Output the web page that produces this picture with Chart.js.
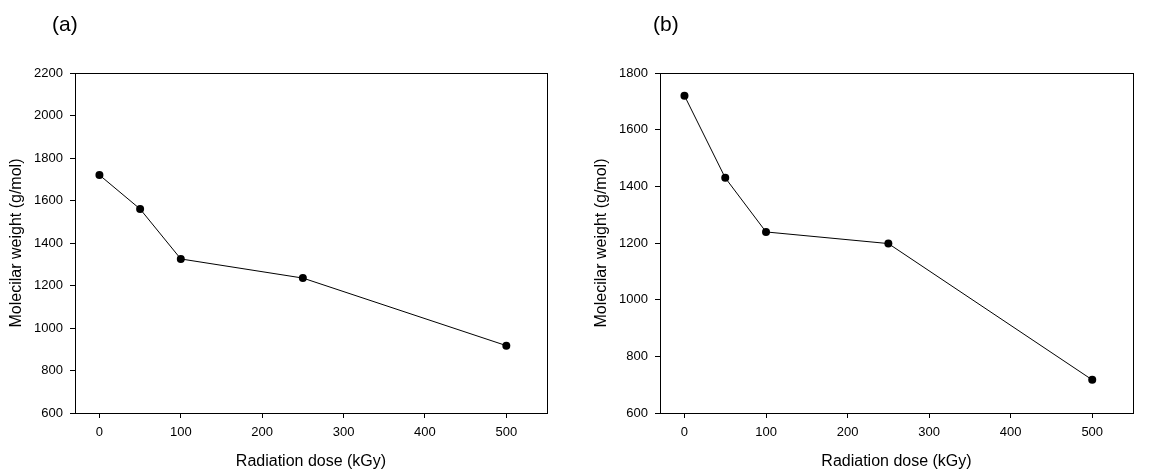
<!DOCTYPE html>
<html lang="en">
<head>
    <meta charset="UTF-8">
    <title>Molecular weight vs radiation dose</title>
    <script src="https://cdn.jsdelivr.net/npm/chart.js"></script>
    <style>
        html, body {
            margin: 0;
            padding: 0;
            background: #ffffff;
            width: 1160px;
            height: 473px;
            overflow: hidden;
            font-family: "Liberation Sans", Arial, sans-serif;
        }
        .panel {
            position: absolute;
            top: 0;
            height: 473px;
        }
        .tag {
            position: absolute;
            top: 13px;
            font-size: 21px;
            line-height: 1;
            color: #000;
        }
    </style>
</head>
<body>
<div class="panel" style="left:0; width:580px;"><canvas id="chartA"></canvas></div>
<div class="panel" style="left:585px; width:575px;"><canvas id="chartB"></canvas></div>
<div class="tag" style="left:52px;">(a)</div>
<div class="tag" style="left:653px;">(b)</div>

<script>
    // data
    const doses = [0, 50, 100, 250, 500];
    const weightA = [1720, 1560, 1325, 1235, 917];
    const weightB = [1720, 1430, 1239, 1198, 717];

    const xTicks = [0, 100, 200, 300, 400, 500];
    const yTicksA = [600, 800, 1000, 1200, 1400, 1600, 1800, 2000, 2200];
    const yTicksB = [600, 800, 1000, 1200, 1400, 1600, 1800];

    const xTitle = 'Radiation dose (kGy)';
    const yTitle = 'Molecilar weight (g/mol)';

    // draws the closed frame around the plot area
    const frameBox = {
        id: 'frameBox',
        afterDraw(chart) {
            const a = chart.chartArea;
            const c = chart.ctx;
            c.save();
            c.strokeStyle = '#000';
            c.lineWidth = 1;
            const l = Math.round(a.left) + 0.5;
            const t = Math.round(a.top) + 0.5;
            const r = Math.round(a.right) + 0.5;
            const b = Math.round(a.bottom) + 0.5;
            c.strokeRect(l, t, r - l, b - t);
            c.restore();
        }
    };

    function makeChart(id, values, yTicks, padRight) {
        const ctx = document.getElementById(id).getContext('2d');
        return new Chart(ctx, {
            type: 'line',
            data: {
                datasets: [{
                    data: doses.map((d, i) => ({ x: d, y: values[i] })),
                    borderColor: '#000',
                    borderWidth: 1,
                    backgroundColor: '#000',
                    pointRadius: 4,
                    pointBackgroundColor: '#000',
                    pointBorderWidth: 0,
                    tension: 0
                }]
            },
            options: {
                responsive: true,
                maintainAspectRatio: false,
                animation: false,
                events: [],
                layout: { padding: { left: 0, top: 73, right: padRight, bottom: 0 } },
                plugins: {
                    legend: { display: false },
                    tooltip: { enabled: false },
                    title: { display: false }
                },
                scales: {
                    x: {
                        type: 'linear',
                        min: -30,
                        max: 550,
                        afterBuildTicks: s => { s.ticks = xTicks.map(v => ({ value: v })); },
                        afterFit: s => { s.height = 60; },
                        grid: { drawOnChartArea: false, drawTicks: true, tickLength: 5, color: '#000', lineWidth: 1 },
                        border: { display: true, color: '#000', width: 1 },
                        ticks: {
                            color: '#000', padding: 7, maxRotation: 0,
                            font: { family: 'Liberation Sans', size: 13 },
                            callback: v => String(v)
                        },
                        title: {
                            display: true,
                            text: xTitle,
                            color: '#000',
                            padding: { top: 0, bottom: 2 },
                            font: { family: 'Liberation Sans', size: 16 }
                        }
                    },
                    y: {
                        type: 'linear',
                        min: yTicks[0],
                        max: yTicks[yTicks.length - 1],
                        afterBuildTicks: s => { s.ticks = yTicks.map(v => ({ value: v })); },
                        afterFit: s => { s.width = 75; },
                        grid: { drawOnChartArea: false, drawTicks: true, tickLength: 5, color: '#000', lineWidth: 1 },
                        border: { display: true, color: '#000', width: 1 },
                        ticks: {
                            color: '#000', padding: 7,
                            font: { family: 'Liberation Sans', size: 13 },
                            callback: v => String(v)
                        },
                        title: {
                            display: true,
                            text: yTitle,
                            color: '#000',
                            padding: { top: 7, bottom: 0 },
                            font: { family: 'Liberation Sans', size: 16 }
                        }
                    }
                }
            },
            plugins: [frameBox]
        });
    }

    makeChart('chartA', weightA, yTicksA, 33);
    makeChart('chartB', weightB, yTicksB, 27);
</script>
</body>
</html>
